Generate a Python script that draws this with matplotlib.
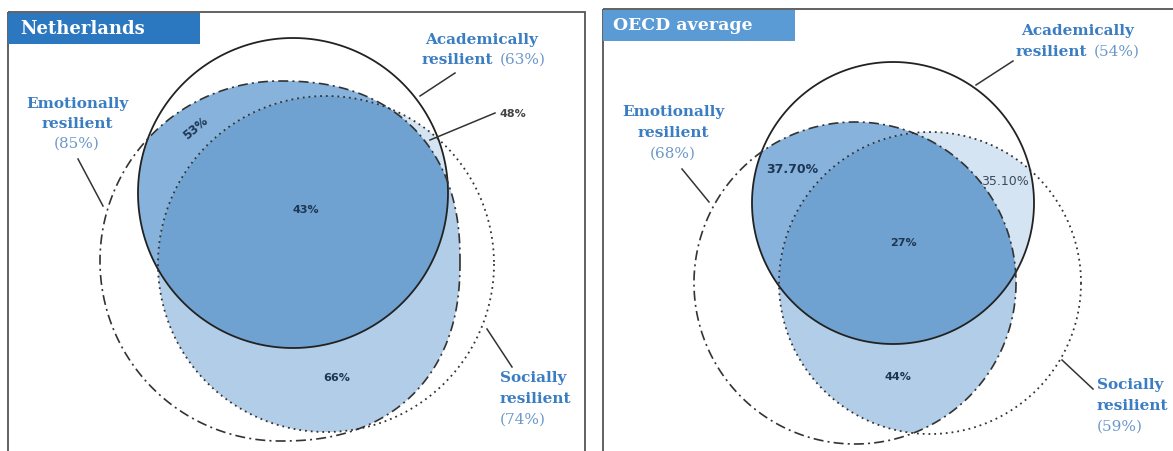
import numpy as np
import matplotlib
matplotlib.use("Agg")
import matplotlib.pyplot as plt
from matplotlib.patches import Rectangle, Polygon
from matplotlib.path import Path

# values shown on the chart
panels = ["Netherlands", "OECD average"]
academic = ["63%", "54%"]
emotional = ["85%", "68%"]
social = ["74%", "59%"]
ae_only = ["53%", "37.70%"]     # academic & emotional, not social
as_only = ["48%", "35.10%"]     # academic & social, not emotional
es_only = ["66%", "44%"]        # emotional & social, not academic
all_three = ["43%", "27%"]

# shape layout in pixel units: centre x, centre y, radius, exponent of the right half
# (2 = circle; the hand-drawn Dutch emotional shape bulges a little on the right)
geom = [
    {"A": (293, 194, 155, 2), "E": (280, 262, 180, 2.3), "S": (326, 265, 168, 2)},
    {"A": (893, 204, 141, 2), "E": (855, 284, 161, 2), "S": (930, 284, 151, 2)},
]

C_ALL = "#6fa2d0"
C_AE = "#86b2dc"
C_ES = "#b2cde7"
C_AS = "#d5e4f2"
LABEL = "#3b7dc2"
LABEL_LIGHT = "#6c98c9"
NUM = "#1d3653"


def outline(g, n=3000):
    cx, cy, r, nr = g
    t = np.linspace(0, 2 * np.pi, n, endpoint=False)
    c, s = np.cos(t), np.sin(t)
    e = np.where(c > 0, 2.0 / nr, 1.0)
    x = cx + r * np.sign(c) * np.abs(c) ** e
    y = cy + r * np.sign(s) * np.abs(s) ** e
    return np.column_stack([x, y])


def intersection(*shapes):
    # boundary points of each shape lying inside all the others, sorted round the centroid
    pts = []
    for i, g in enumerate(shapes):
        p = outline(g)
        m = np.ones(len(p), bool)
        for j, o in enumerate(shapes):
            if j != i:
                m &= Path(outline(o)).contains_points(p, radius=0.01)
        pts.append(p[m])
    pts = np.vstack(pts)
    cx, cy = pts.mean(axis=0)
    order = np.argsort(np.arctan2(pts[:, 1] - cy, pts[:, 0] - cx))
    return pts[order]


fig = plt.figure(figsize=(11.73, 4.52), dpi=100)
ax = fig.add_axes([0, 0, 1, 1])
ax.set_xlim(0, 1173)
ax.set_ylim(452, 0)
ax.axis("off")

serif = "DejaVu Serif"
sans = "DejaVu Sans"

# panel frames and title tabs
ax.add_patch(Rectangle((8, 13), 577, 460, fill=False, ec="#555555", lw=1.3))
ax.add_patch(Rectangle((603, 10), 600, 460, fill=False, ec="#555555", lw=1.3))
ax.add_patch(Rectangle((8, 14), 192, 31, fc="#2b78c0", ec="none"))
ax.add_patch(Rectangle((603, 11), 192, 31, fc="#5b9bd5", ec="none"))
ax.text(20, 29, panels[0], color="white", fontsize=13, fontweight="bold",
        family=serif, va="center")
ax.text(613, 26, panels[1], color="white", fontsize=12.5, fontweight="bold",
        family=serif, va="center")

for k, g in enumerate(geom):
    A, E, S = g["A"], g["E"], g["S"]
    for shp, col in [((A, E), C_AE), ((A, S), C_AS), ((E, S), C_ES), ((A, E, S), C_ALL)]:
        ax.add_patch(Polygon(intersection(*shp), closed=True, fc=col, ec="none"))
    ax.add_patch(Polygon(outline(A), closed=True, fill=False, ec="#222222", lw=1.3))
    ax.add_patch(Polygon(outline(E), closed=True, fill=False, ec="#333333", lw=1.2,
                         ls=(0, (6, 2.5, 1.2, 2.5))))
    ax.add_patch(Polygon(outline(S), closed=True, fill=False, ec="#333333", lw=1.3,
                         ls=(0, (1, 2.2))))

# Netherlands labels
ax.text(482, 40, "Academically", color=LABEL, fontsize=11, fontweight="bold",
        family=serif, ha="center", va="center")
ax.text(422, 60, "resilient", color=LABEL, fontsize=11, fontweight="bold",
        family=serif, ha="left", va="center")
ax.text(500, 60, f"({academic[0]})", color=LABEL_LIGHT, fontsize=11,
        family=serif, ha="left", va="center")
ax.plot([455, 420], [74, 97], color="#333333", lw=1.1)

ax.text(77, 104, "Emotionally", color=LABEL, fontsize=11, fontweight="bold",
        family=serif, ha="center", va="center")
ax.text(77, 124, "resilient", color=LABEL, fontsize=11, fontweight="bold",
        family=serif, ha="center", va="center")
ax.text(77, 144, f"({emotional[0]})", color=LABEL_LIGHT, fontsize=11,
        family=serif, ha="center", va="center")
ax.plot([78, 103], [160, 207], color="#333333", lw=1.1)

ax.text(500, 378, "Socially", color=LABEL, fontsize=11, fontweight="bold",
        family=serif, ha="left", va="center")
ax.text(500, 399, "resilient", color=LABEL, fontsize=11, fontweight="bold",
        family=serif, ha="left", va="center")
ax.text(500, 420, f"({social[0]})", color=LABEL_LIGHT, fontsize=11,
        family=serif, ha="left", va="center")
ax.plot([487, 512], [330, 368], color="#333333", lw=1.1)

ax.text(500, 114, as_only[0], color="#444444", fontsize=8, fontweight="bold",
        family=sans, ha="left", va="center")
ax.plot([495, 430], [114, 141], color="#333333", lw=1.1)
ax.text(196, 128, ae_only[0], color=NUM, fontsize=8.5, fontweight="bold",
        family=sans, ha="center", va="center", rotation=40)
ax.text(306, 210, all_three[0], color=NUM, fontsize=8, fontweight="bold",
        family=sans, ha="center", va="center")
ax.text(337, 378, es_only[0], color=NUM, fontsize=8, fontweight="bold",
        family=sans, ha="center", va="center")

# OECD labels
ax.text(1078, 31, "Academically", color=LABEL, fontsize=11, fontweight="bold",
        family=serif, ha="center", va="center")
ax.text(1016, 52, "resilient", color=LABEL, fontsize=11, fontweight="bold",
        family=serif, ha="left", va="center")
ax.text(1094, 52, f"({academic[1]})", color=LABEL_LIGHT, fontsize=11,
        family=serif, ha="left", va="center")
ax.plot([1013, 976], [62, 86], color="#333333", lw=1.1)

ax.text(673, 112, "Emotionally", color=LABEL, fontsize=11, fontweight="bold",
        family=serif, ha="center", va="center")
ax.text(673, 133, "resilient", color=LABEL, fontsize=11, fontweight="bold",
        family=serif, ha="center", va="center")
ax.text(673, 154, f"({emotional[1]})", color=LABEL_LIGHT, fontsize=11,
        family=serif, ha="center", va="center")
ax.plot([682, 709], [170, 203], color="#333333", lw=1.1)

ax.text(1097, 385, "Socially", color=LABEL, fontsize=11, fontweight="bold",
        family=serif, ha="left", va="center")
ax.text(1097, 406, "resilient", color=LABEL, fontsize=11, fontweight="bold",
        family=serif, ha="left", va="center")
ax.text(1097, 427, f"({social[1]})", color=LABEL_LIGHT, fontsize=11,
        family=serif, ha="left", va="center")
ax.plot([1062, 1093], [361, 390], color="#333333", lw=1.1)

ax.text(792, 170, ae_only[1], color=NUM, fontsize=9, fontweight="bold",
        family=sans, ha="center", va="center")
ax.text(1005, 182, as_only[1], color="#3a4a5c", fontsize=9,
        family=sans, ha="center", va="center")
ax.text(903, 243, all_three[1], color=NUM, fontsize=8, fontweight="bold",
        family=sans, ha="center", va="center")
ax.text(898, 377, es_only[1], color=NUM, fontsize=8, fontweight="bold",
        family=sans, ha="center", va="center")

fig.savefig("out.png", dpi=100, facecolor="white")
